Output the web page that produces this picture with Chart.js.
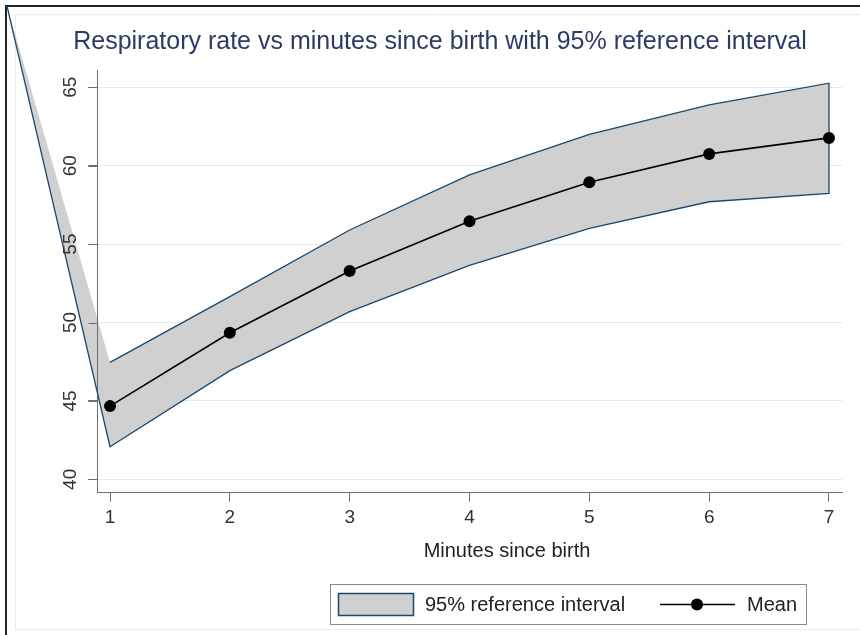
<!DOCTYPE html>
<html>
<head>
<meta charset="utf-8">
<script src="https://cdn.jsdelivr.net/npm/chart.js@4.4.1/dist/chart.umd.min.js"></script>
<style>
html,body{margin:0;padding:0;background:#fff;}
canvas{display:block;}
</style>
</head>
<body>
<canvas id="c" width="860" height="635"></canvas>
<script>
// ---- data ----
const minutes   = [1, 2, 3, 4, 5, 6, 7];
const meanRate  = [44.67, 49.35, 53.28, 56.45, 58.94, 60.75, 61.77];
const upperRate = [47.46, 51.65, 55.90, 59.41, 62.00, 63.87, 65.26];
const lowerRate = [42.08, 46.93, 50.69, 53.65, 56.01, 57.70, 58.24];
// stray vertex of the shaded polygon (drawn toward the top-left corner in the original)
const strayMinute = [0.14];
const strayRate   = [70.19];
const xTicks = [1, 2, 3, 4, 5, 6, 7];
const yTicks = [40, 45, 50, 55, 60, 65];
const titleText = 'Respiratory rate vs minutes since birth with 95% reference interval';
const xTitleText = 'Minutes since birth';
const legendLabels = ['95% reference interval', 'Mean'];

const FONT = "'Liberation Sans', Arial, Helvetica, sans-serif";
const BAND_FILL = '#d0d0d0';
const BAND_LINE = '#1a476f';
const GRID = '#e3ebf0';
const AXIS = '#6e6e6e';

const bandPoints = [{x: strayMinute[0], y: strayRate[0]}]
  .concat(minutes.map((m, i) => ({x: m, y: lowerRate[i]})))
  .concat(minutes.map((m, i) => ({x: m, y: upperRate[i]})).reverse());
const meanPoints = minutes.map((m, i) => ({x: m, y: meanRate[i]}));

const decor = {
  id: 'decor',
  beforeDraw(chart) {
    const ctx = chart.ctx;
    ctx.save();
    ctx.fillStyle = '#fff';
    ctx.fillRect(0, 0, chart.width, chart.height);
    // faint graph-region outline
    ctx.strokeStyle = '#e6eef2';
    ctx.lineWidth = 1;
    ctx.beginPath();
    ctx.moveTo(860, 14.5); ctx.lineTo(15.5, 14.5); ctx.lineTo(15.5, 629.5); ctx.lineTo(860, 629.5);
    ctx.stroke();
    // dark outer border (top and left)
    ctx.strokeStyle = '#222';
    ctx.lineWidth = 2;
    ctx.beginPath();
    ctx.moveTo(860, 6); ctx.lineTo(6, 6); ctx.lineTo(6, 635);
    ctx.stroke();
    // title
    ctx.fillStyle = '#2a3b66';
    ctx.font = '25px ' + FONT;
    ctx.textAlign = 'center';
    ctx.textBaseline = 'middle';
    ctx.fillText(titleText, 440, 42);
    ctx.restore();
  },
  beforeDatasetsDraw(chart) {
    const ctx = chart.ctx;
    const meta = chart.getDatasetMeta(1);
    const pts = meta.data;
    ctx.save();
    ctx.beginPath();
    pts.forEach((p, i) => { if (i === 0) ctx.moveTo(p.x, p.y); else ctx.lineTo(p.x, p.y); });
    ctx.closePath();
    ctx.fillStyle = chart.data.datasets[1].backgroundColor;
    ctx.fill();
    // y axis line and its tick marks stay visible above the shaded area
    const ys = chart.scales.y;
    const a = chart.chartArea;
    ctx.strokeStyle = AXIS;
    ctx.lineWidth = 1;
    ctx.beginPath();
    const ax = Math.round(a.left) + 0.5;
    ctx.moveTo(ax, a.top); ctx.lineTo(ax, a.bottom);
    yTicks.forEach(v => {
      const py = Math.round(ys.getPixelForValue(v)) + 0.5;
      ctx.moveTo(ax - 9, py); ctx.lineTo(ax, py);
    });
    ctx.stroke();
    ctx.restore();
  },
  afterDraw(chart) {
    const ctx = chart.ctx;
    const ys = chart.scales.y;
    ctx.save();
    // y tick labels, rotated
    ctx.fillStyle = '#333';
    ctx.font = '19px ' + FONT;
    ctx.textAlign = 'center';
    ctx.textBaseline = 'middle';
    yTicks.forEach(v => {
      const py = ys.getPixelForValue(v);
      ctx.save();
      ctx.translate(71, py);
      ctx.rotate(-Math.PI / 2);
      ctx.fillText(String(v), 0, 0);
      ctx.restore();
    });
    // x axis title
    ctx.font = '20px ' + FONT;
    ctx.fillStyle = '#222';
    ctx.fillText(xTitleText, 507, 551);
    // legend
    ctx.fillStyle = '#fff';
    ctx.fillRect(330, 584, 476, 40);
    ctx.strokeStyle = '#8a8a8a';
    ctx.lineWidth = 1;
    ctx.strokeRect(330.5, 584.5, 476, 40);
    const band = chart.data.datasets[1];
    const mean = chart.data.datasets[0];
    ctx.fillStyle = band.backgroundColor;
    ctx.fillRect(338, 593, 75, 22);
    ctx.strokeStyle = band.borderColor;
    ctx.lineWidth = 1.5;
    ctx.strokeRect(338.5, 593.5, 75, 22);
    ctx.fillStyle = '#222';
    ctx.font = '20px ' + FONT;
    ctx.textAlign = 'left';
    ctx.textBaseline = 'middle';
    ctx.fillText(legendLabels[0], 425, 605);
    ctx.strokeStyle = mean.borderColor;
    ctx.lineWidth = mean.borderWidth;
    ctx.beginPath(); ctx.moveTo(660, 604.5); ctx.lineTo(735, 604.5); ctx.stroke();
    ctx.fillStyle = mean.pointBackgroundColor;
    ctx.beginPath(); ctx.arc(697, 604.5, mean.pointRadius, 0, Math.PI * 2); ctx.fill();
    ctx.fillStyle = '#222';
    ctx.fillText(legendLabels[1], 747, 605);
    ctx.restore();
  }
};

new Chart(document.getElementById('c'), {
  type: 'scatter',
  data: {
    datasets: [
      {
        label: legendLabels[1],
        data: meanPoints,
        showLine: true,
        borderColor: '#000',
        borderWidth: 1.6,
        pointRadius: 6,
        pointBackgroundColor: '#000',
        pointBorderWidth: 0,
        tension: 0,
        clip: false
      },
      {
        label: legendLabels[0],
        data: bandPoints,
        showLine: true,
        borderColor: BAND_LINE,
        borderWidth: 1.3,
        backgroundColor: BAND_FILL,
        pointRadius: 0,
        fill: false,
        tension: 0,
        clip: false
      }
    ]
  },
  options: {
    responsive: false,
    animation: false,
    events: [],
    layout: { padding: { top: 70, left: 0, right: 18, bottom: 0 } },
    plugins: {
      legend: { display: false },
      title: { display: false },
      tooltip: { enabled: false }
    },
    scales: {
      x: {
        type: 'linear',
        min: 0.8915,
        max: 7.1085,
        afterBuildTicks: s => { s.ticks = xTicks.map(v => ({ value: v })); },
        afterFit: s => { s.height = 142.3; },
        border: { display: true, color: AXIS, width: 1 },
        grid: { drawOnChartArea: false, drawTicks: true, tickLength: 9, tickColor: AXIS },
        ticks: { color: '#333', font: { family: FONT, size: 19 }, padding: 5, maxRotation: 0, minRotation: 0 }
      },
      y: {
        type: 'linear',
        min: 39.15,
        max: 66.1,
        afterBuildTicks: s => { s.ticks = yTicks.map(v => ({ value: v })); },
        afterFit: s => { s.width = 97; },
        border: { display: true, color: AXIS, width: 1 },
        grid: { color: GRID, lineWidth: 1, drawTicks: true, tickLength: 9, tickColor: AXIS },
        ticks: { display: false }
      }
    }
  },
  plugins: [decor]
});
</script>
</body>
</html>
